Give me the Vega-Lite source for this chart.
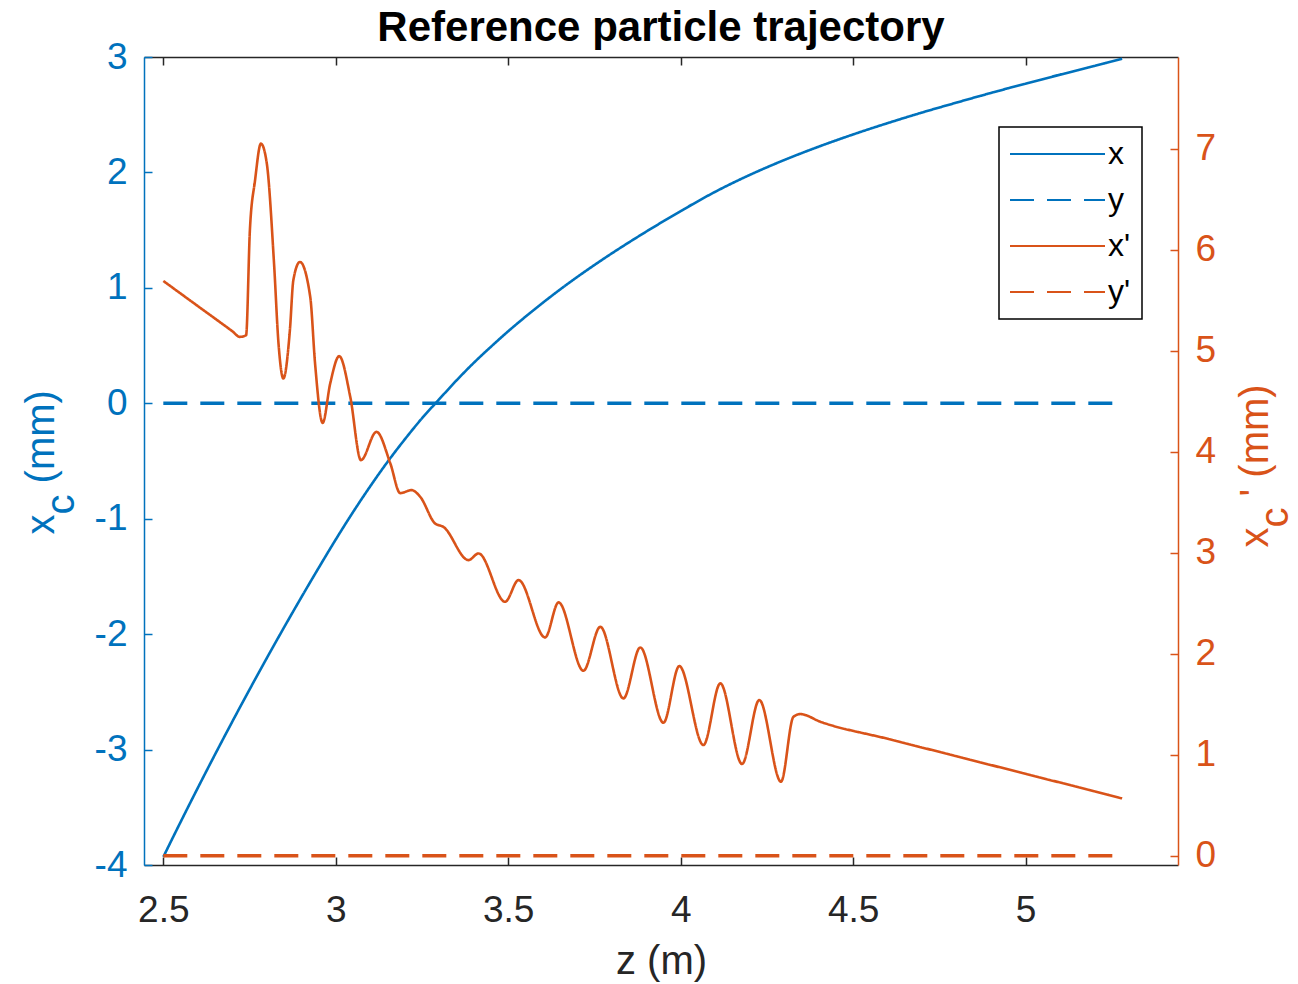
{
  "$schema": "https://vega.github.io/schema/vega-lite/v6.json",
  "width": 1034,
  "height": 808,
  "autosize": {"type": "none"},
  "padding": {"left": 144, "top": 57, "right": 120, "bottom": 119},
  "background": "white",
  "title": {
    "text": "Reference particle trajectory",
    "font": "Liberation Sans",
    "fontSize": 42,
    "fontWeight": "bold",
    "color": "#000000",
    "anchor": "middle",
    "offset": 8,
    "dy": 20
  },
  "config": {
    "view": {"stroke": null},
    "legend": {"strokeWidth": 1.5},
    "axis": {"grid": false}
  },
  "datasets": {
    "traj": [
      {"series": "x", "z": 2.50, "v": -3.93},
      {"series": "x", "z": 2.55, "v": -3.628},
      {"series": "x", "z": 2.60, "v": -3.332},
      {"series": "x", "z": 2.65, "v": -3.042},
      {"series": "x", "z": 2.70, "v": -2.758},
      {"series": "x", "z": 2.75, "v": -2.48},
      {"series": "x", "z": 2.80, "v": -2.208},
      {"series": "x", "z": 2.85, "v": -1.942},
      {"series": "x", "z": 2.90, "v": -1.682},
      {"series": "x", "z": 2.95, "v": -1.428},
      {"series": "x", "z": 3.00, "v": -1.18},
      {"series": "x", "z": 3.05, "v": -0.943},
      {"series": "x", "z": 3.10, "v": -0.719},
      {"series": "x", "z": 3.15, "v": -0.508},
      {"series": "x", "z": 3.20, "v": -0.313},
      {"series": "x", "z": 3.25, "v": -0.13},
      {"series": "x", "z": 3.30, "v": 0.035},
      {"series": "x", "z": 3.35, "v": 0.198},
      {"series": "x", "z": 3.40, "v": 0.35},
      {"series": "x", "z": 3.45, "v": 0.49},
      {"series": "x", "z": 3.50, "v": 0.624},
      {"series": "x", "z": 3.55, "v": 0.75},
      {"series": "x", "z": 3.60, "v": 0.87},
      {"series": "x", "z": 3.65, "v": 0.985},
      {"series": "x", "z": 3.70, "v": 1.094},
      {"series": "x", "z": 3.75, "v": 1.198},
      {"series": "x", "z": 3.80, "v": 1.298},
      {"series": "x", "z": 3.85, "v": 1.394},
      {"series": "x", "z": 3.90, "v": 1.487},
      {"series": "x", "z": 3.95, "v": 1.577},
      {"series": "x", "z": 4.00, "v": 1.665},
      {"series": "x", "z": 4.10, "v": 1.832},
      {"series": "x", "z": 4.20, "v": 1.978},
      {"series": "x", "z": 4.30, "v": 2.107},
      {"series": "x", "z": 4.40, "v": 2.223},
      {"series": "x", "z": 4.50, "v": 2.329},
      {"series": "x", "z": 4.60, "v": 2.427},
      {"series": "x", "z": 4.70, "v": 2.519},
      {"series": "x", "z": 4.80, "v": 2.605},
      {"series": "x", "z": 4.90, "v": 2.689},
      {"series": "x", "z": 5.00, "v": 2.769},
      {"series": "x", "z": 5.10, "v": 2.847},
      {"series": "x", "z": 5.20, "v": 2.923},
      {"series": "x", "z": 5.28, "v": 2.985},
      {"series": "y", "z": 2.50, "v": 0},
      {"series": "y", "z": 5.28, "v": 0},
      {"series": "x'", "z": 2.500, "v": 5.693},
      {"series": "x'", "z": 2.600, "v": 5.444},
      {"series": "x'", "z": 2.700, "v": 5.195},
      {"series": "x'", "z": 2.722, "v": 5.139},
      {"series": "x'", "z": 2.740, "v": 5.155},
      {"series": "x'", "z": 2.751, "v": 6.195},
      {"series": "x'", "z": 2.766, "v": 6.69},
      {"series": "x'", "z": 2.783, "v": 7.053},
      {"series": "x'", "z": 2.800, "v": 6.858},
      {"series": "x'", "z": 2.821, "v": 5.868},
      {"series": "x'", "z": 2.834, "v": 5.073},
      {"series": "x'", "z": 2.848, "v": 4.727},
      {"series": "x'", "z": 2.867, "v": 5.205},
      {"series": "x'", "z": 2.877, "v": 5.70},
      {"series": "x'", "z": 2.896, "v": 5.881},
      {"series": "x'", "z": 2.926, "v": 5.535},
      {"series": "x'", "z": 2.940, "v": 4.875},
      {"series": "x'", "z": 2.962, "v": 4.287},
      {"series": "x'", "z": 2.984, "v": 4.679},
      {"series": "x'", "z": 3.010, "v": 4.948},
      {"series": "x'", "z": 3.042, "v": 4.546},
      {"series": "x'", "z": 3.073, "v": 3.918},
      {"series": "x'", "z": 3.118, "v": 4.198},
      {"series": "x'", "z": 3.158, "v": 3.888},
      {"series": "x'", "z": 3.187, "v": 3.591},
      {"series": "x'", "z": 3.220, "v": 3.621},
      {"series": "x'", "z": 3.245, "v": 3.554},
      {"series": "x'", "z": 3.288, "v": 3.291},
      {"series": "x'", "z": 3.312, "v": 3.257},
      {"series": "x'", "z": 3.385, "v": 2.928},
      {"series": "x'", "z": 3.414, "v": 2.994},
      {"series": "x'", "z": 3.491, "v": 2.515},
      {"series": "x'", "z": 3.530, "v": 2.730},
      {"series": "x'", "z": 3.607, "v": 2.162},
      {"series": "x'", "z": 3.646, "v": 2.509},
      {"series": "x'", "z": 3.718, "v": 1.832},
      {"series": "x'", "z": 3.767, "v": 2.267},
      {"series": "x'", "z": 3.834, "v": 1.558},
      {"series": "x'", "z": 3.883, "v": 2.063},
      {"series": "x'", "z": 3.950, "v": 1.317},
      {"series": "x'", "z": 3.996, "v": 1.878},
      {"series": "x'", "z": 4.066, "v": 1.096},
      {"series": "x'", "z": 4.115, "v": 1.707},
      {"series": "x'", "z": 4.178, "v": 0.908},
      {"series": "x'", "z": 4.228, "v": 1.542},
      {"series": "x'", "z": 4.291, "v": 0.733},
      {"series": "x'", "z": 4.327, "v": 1.376},
      {"series": "x'", "z": 4.347, "v": 1.403},
      {"series": "x'", "z": 4.405, "v": 1.327},
      {"series": "x'", "z": 4.600, "v": 1.158},
      {"series": "x'", "z": 4.800, "v": 0.985},
      {"series": "x'", "z": 5.000, "v": 0.811},
      {"series": "x'", "z": 5.200, "v": 0.638},
      {"series": "x'", "z": 5.280, "v": 0.568},
      {"series": "y'", "z": 2.50, "v": 0},
      {"series": "y'", "z": 5.28, "v": 0}
    ]
  },
  "data": {"name": "traj"},
  "layer": [
    {
      "encoding": {
        "x": {
          "field": "z", "type": "quantitative",
          "scale": {"domain": [2.444, 5.442], "nice": false, "zero": false},
          "axis": {
            "orient": "bottom", "values": [2.5, 3, 3.5, 4, 4.5, 5], "labelExpr": "'' + datum.value",
            "domainColor": "#262626", "domainWidth": 1.5, "tickColor": "#262626", "tickWidth": 1.5, "tickSize": -8,
            "labelColor": "#262626", "labelFont": "Liberation Sans", "labelFontSize": 37, "labelPadding": 35.5,
            "title": "z (m)", "titleFont": "Liberation Sans", "titleFontSize": 40, "titleFontWeight": "normal",
            "titleColor": "#262626", "titleX": 517, "titleY": 108, "titleAlign": "center", "titleBaseline": "alphabetic"
          }
        },
        "y": {
          "field": "v", "type": "quantitative",
          "scale": {"domain": [-4, 3], "nice": false, "zero": false},
          "axis": {
            "orient": "left", "values": [-4, -3, -2, -1, 0, 1, 2, 3], "labelExpr": "'' + datum.value",
            "domainColor": "#0072BD", "domainWidth": 1.5, "tickColor": "#0072BD", "tickWidth": 1.5, "tickSize": -8,
            "labelColor": "#0072BD", "labelFont": "Liberation Sans", "labelFontSize": 37, "labelPadding": 25,
            "title": ["x\u2002 (mm)", "\u200b\u2002c"], "titleFont": "Liberation Sans", "titleFontSize": 40, "titleFontWeight": "normal",
            "titleColor": "#0072BD", "titleAngle": -90, "titleAlign": "left", "titleBaseline": "alphabetic",
            "titleLineHeight": 20, "titleX": -91, "titleY": 477
          }
        },
        "color": {
          "field": "series", "type": "nominal",
          "scale": {"domain": ["x", "y", "x'", "y'"], "range": ["#0072BD", "#0072BD", "#D95319", "#D95319"]},
          "legend": {
            "title": null, "orient": "none", "legendX": 855, "legendY": 70, "padding": 11,
            "fillColor": "white", "strokeColor": "#000000",
            "symbolType": "M-4,0L4,0", "symbolSize": 564, "symbolStrokeWidth": 2,
            "symbolOffset": 31.5, "labelOffset": 34.5, "rowPadding": 14,
            "labelFont": "Liberation Sans", "labelFontSize": 32, "labelColor": "#000000", "labelLimit": 300
          }
        },
        "strokeDash": {
          "field": "series", "type": "nominal",
          "scale": {"domain": ["x", "y", "x'", "y'"], "range": [[1, 0], [24, 13], [1, 0], [24, 13]]},
          "legend": {
            "title": null, "orient": "none", "legendX": 855, "legendY": 70, "padding": 11,
            "fillColor": "white", "strokeColor": "#000000",
            "symbolType": "M-4,0L4,0", "symbolSize": 564, "symbolStrokeWidth": 2,
            "symbolOffset": 31.5, "labelOffset": 34.5, "rowPadding": 14,
            "labelFont": "Liberation Sans", "labelFontSize": 32, "labelColor": "#000000", "labelLimit": 300
          }
        }
      },
      "layer": [
        {
          "transform": [{"filter": "datum.series === 'x'"}],
          "mark": {"type": "line", "strokeWidth": 2.6, "interpolate": "monotone"}
        },
        {
          "transform": [{"filter": "datum.series === 'y'"}],
          "mark": {"type": "line", "strokeWidth": 3.5}
        }
      ]
    },
    {
      "encoding": {
        "x": {
          "field": "z", "type": "quantitative",
          "scale": {"domain": [2.444, 5.442], "nice": false, "zero": false},
          "axis": {
            "orient": "top", "values": [2.5, 3, 3.5, 4, 4.5, 5], "labels": false, "title": null,
            "domainColor": "#262626", "domainWidth": 1.5, "tickColor": "#262626", "tickWidth": 1.5, "tickSize": -8
          }
        },
        "y": {
          "field": "v", "type": "quantitative",
          "scale": {"domain": [-0.092, 7.911], "nice": false, "zero": false},
          "axis": {
            "orient": "right", "values": [0, 1, 2, 3, 4, 5, 6, 7],
            "domainColor": "#D95319", "domainWidth": 1.5, "tickColor": "#D95319", "tickWidth": 1.5, "tickSize": -8,
            "labelColor": "#D95319", "labelFont": "Liberation Sans", "labelFontSize": 37, "labelPadding": 25,
            "title": ["x\u2002 ' (mm)", "\u200b\u2002c"], "titleFont": "Liberation Sans", "titleFontSize": 40, "titleFontWeight": "normal",
            "titleColor": "#D95319", "titleAngle": -90, "titleAlign": "left", "titleBaseline": "alphabetic",
            "titleLineHeight": 20, "titleX": 89, "titleY": 490
          }
        },
        "color": {
          "field": "series", "type": "nominal",
          "scale": {"domain": ["x", "y", "x'", "y'"], "range": ["#0072BD", "#0072BD", "#D95319", "#D95319"]}
        },
        "strokeDash": {
          "field": "series", "type": "nominal",
          "scale": {"domain": ["x", "y", "x'", "y'"], "range": [[1, 0], [24, 13], [1, 0], [24, 13]]}
        }
      },
      "layer": [
        {
          "transform": [{"filter": "datum.series === \"x'\""}],
          "mark": {"type": "line", "strokeWidth": 2.6, "interpolate": "monotone"}
        },
        {
          "transform": [{"filter": "datum.series === \"y'\""}],
          "mark": {"type": "line", "strokeWidth": 3.5}
        }
      ]
    }
  ],
  "resolve": {"scale": {"y": "independent"}}
}
